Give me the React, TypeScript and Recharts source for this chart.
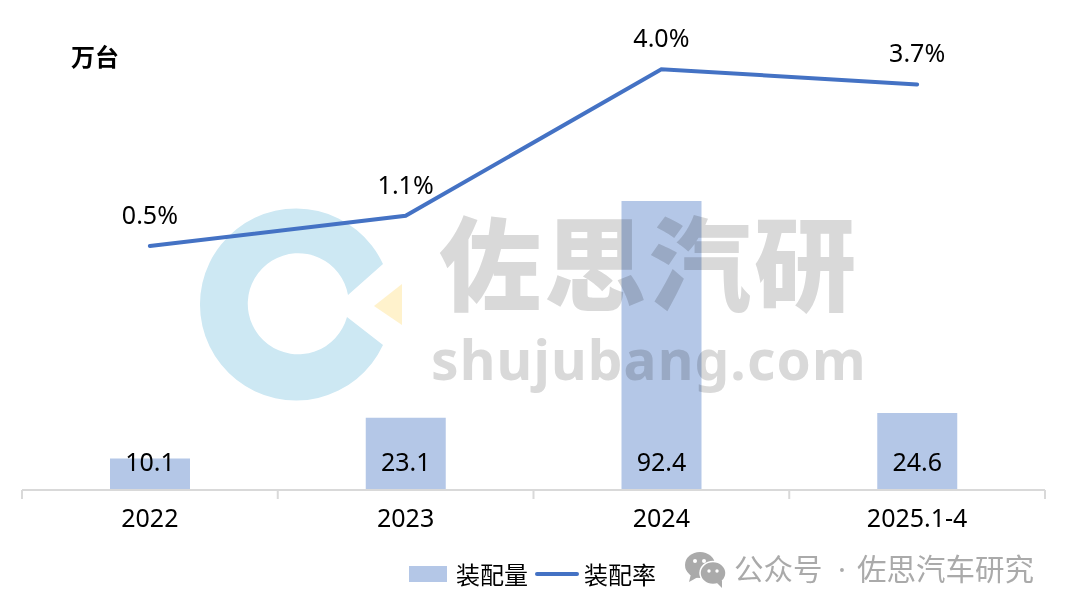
import { Bar, Line, ComposedChart, XAxis, YAxis, Legend, LabelList } from "recharts";

const years = ["2022", "2023", "2024", "2025.1-4"];
const volume = [10.1, 23.1, 92.4, 24.6];
const rate = [0.5, 1.1, 4.0, 3.7];

const chartData = years.map((year, i) => ({ year, 装配量: volume[i], 装配率: rate[i] }));

const FONT = '"Noto Sans", "Noto Sans CJK SC", sans-serif';
const BAR_COLOR = "#b4c7e7";
const LINE_COLOR = "#4472c4";
const AXIS_COLOR = "#d9d9d9";
const HALF_BAND = 1023 / 8;

function YearTick({ x, y, payload, index }: any) {
  const baseline = y - 8;
  return (
    <g>
      <line x1={x - HALF_BAND} x2={x - HALF_BAND} y1={baseline} y2={baseline + 9} stroke={AXIS_COLOR} strokeWidth={2} />
      {index === years.length - 1 && (
        <line x1={x + HALF_BAND} x2={x + HALF_BAND} y1={baseline} y2={baseline + 9} stroke={AXIS_COLOR} strokeWidth={2} />
      )}
      <text x={x} y={baseline + 37} textAnchor="middle" fontSize={25} fontFamily={FONT} fill="#000">
        {payload.value}
      </text>
    </g>
  );
}

function ChartLegend() {
  return (
    <div style={{ position: "relative", width: 260, height: 40, fontFamily: '"Noto Sans CJK SC", sans-serif', fontSize: 24, color: "#000" }}>
      <div style={{ position: "absolute", left: 0, top: 10, width: 38, height: 16, background: BAR_COLOR }} />
      <span style={{ position: "absolute", left: 47, top: 0, lineHeight: "36px" }}>装配量</span>
      <div style={{ position: "absolute", left: 126, top: 16, width: 44, height: 4, borderRadius: 2, background: LINE_COLOR }} />
      <span style={{ position: "absolute", left: 175, top: 0, lineHeight: "36px" }}>装配率</span>
    </div>
  );
}

function LogoMark() {
  return (
    <svg width={1068} height={612} style={{ position: "absolute", left: 0, top: 0 }}>
      <path d="M383 264 A96 96 0 1 0 383 345 L347 317 A50.5 50.5 0 1 1 348 295 Z" fill="#cde8f3" />
      <path d="M374 306 L402 284 L402 325 Z" fill="#fff2cc" />
    </svg>
  );
}

function Watermark() {
  const cjk = '"Noto Sans CJK SC", sans-serif';
  return (
    <svg width={1068} height={612} style={{ position: "absolute", left: 0, top: 0, mixBlendMode: "multiply", pointerEvents: "none" }}>
      <text x={439} y={303} fontSize={102} fontWeight={900} letterSpacing={3} fontFamily={cjk} fill="#d9d9d9">
        佐思汽研
      </text>
      <text x={431} y={380} fontSize={55} fontWeight={700} letterSpacing={1.1} fontFamily='"Noto Sans", sans-serif' fill="#d9d9d9">
        shujubang.com
      </text>
      <ellipse cx={700} cy={565} rx={15} ry={13} fill="#aaaaaa" />
      <path d="M691 574 L689 582 L698 577 Z" fill="#aaaaaa" />
      <ellipse cx={713} cy={573} rx={13} ry={11.5} fill="#aaaaaa" stroke="#fff" strokeWidth={1.5} />
      <path d="M717 583 L722 588 L722 580 Z" fill="#aaaaaa" />
      <circle cx={695} cy={561} r={2} fill="#fff" />
      <circle cx={704} cy={561} r={2} fill="#fff" />
      <circle cx={709} cy={571} r={1.7} fill="#fff" />
      <circle cx={717} cy={571} r={1.7} fill="#fff" />
      <text x={734} y={580} fontSize={29.5} fontFamily={cjk} fill="#aaaaaa">
        公众号
      </text>
      <text x={838} y={580} fontSize={29.5} fontFamily='"Noto Sans", sans-serif' fill="#aaaaaa">
        ·
      </text>
      <text x={857} y={580} fontSize={29.5} fontFamily={cjk} fill="#aaaaaa">
        佐思汽车研究
      </text>
    </svg>
  );
}

export default function App() {
  return (
    <div style={{ position: "absolute", left: 0, top: 0, width: 1068, height: 612, background: "#fff", overflow: "hidden" }}>
      <LogoMark />
      <div style={{ position: "absolute", left: 0, top: 0 }}>
        <ComposedChart width={1068} height={612} data={chartData} margin={{ top: 21, right: 23, bottom: 22, left: 22 }}>
          <XAxis
            dataKey="year"
            height={60}
            interval={0}
            axisLine={{ stroke: AXIS_COLOR, strokeWidth: 2 }}
            tickLine={false}
            tick={<YearTick />}
          />
          <YAxis yAxisId="left" hide domain={[0, 150]} />
          <YAxis yAxisId="right" hide orientation="right" domain={[-4.33, 4.955]} />
          <Legend
            height={40}
            content={<ChartLegend />}
            wrapperStyle={{ left: 409, top: 556, width: 260, bottom: "auto" }}
          />
          <Bar yAxisId="left" dataKey="装配量" fill={BAR_COLOR} barSize={80} isAnimationActive={false}>
            <LabelList dataKey="装配量" position="insideBottom" offset={19} fontSize={25} fontFamily={FONT} fill="#000" />
          </Bar>
          <Line
            yAxisId="right"
            dataKey="装配率"
            stroke={LINE_COLOR}
            strokeWidth={4}
            strokeLinecap="round"
            dot={false}
            isAnimationActive={false}
          >
            <LabelList
              dataKey="装配率"
              position="top"
              offset={22}
              fontSize={25}
              fontFamily={FONT}
              fill="#000"
              formatter={(v: number) => `${v.toFixed(1)}%`}
            />
          </Line>
        </ComposedChart>
      </div>
      <div style={{ position: "absolute", left: 71, top: 39, fontFamily: '"Noto Sans CJK SC", sans-serif', fontWeight: 700, fontSize: 24, lineHeight: "34px" }}>
        万台
      </div>
      <Watermark />
    </div>
  );
}
